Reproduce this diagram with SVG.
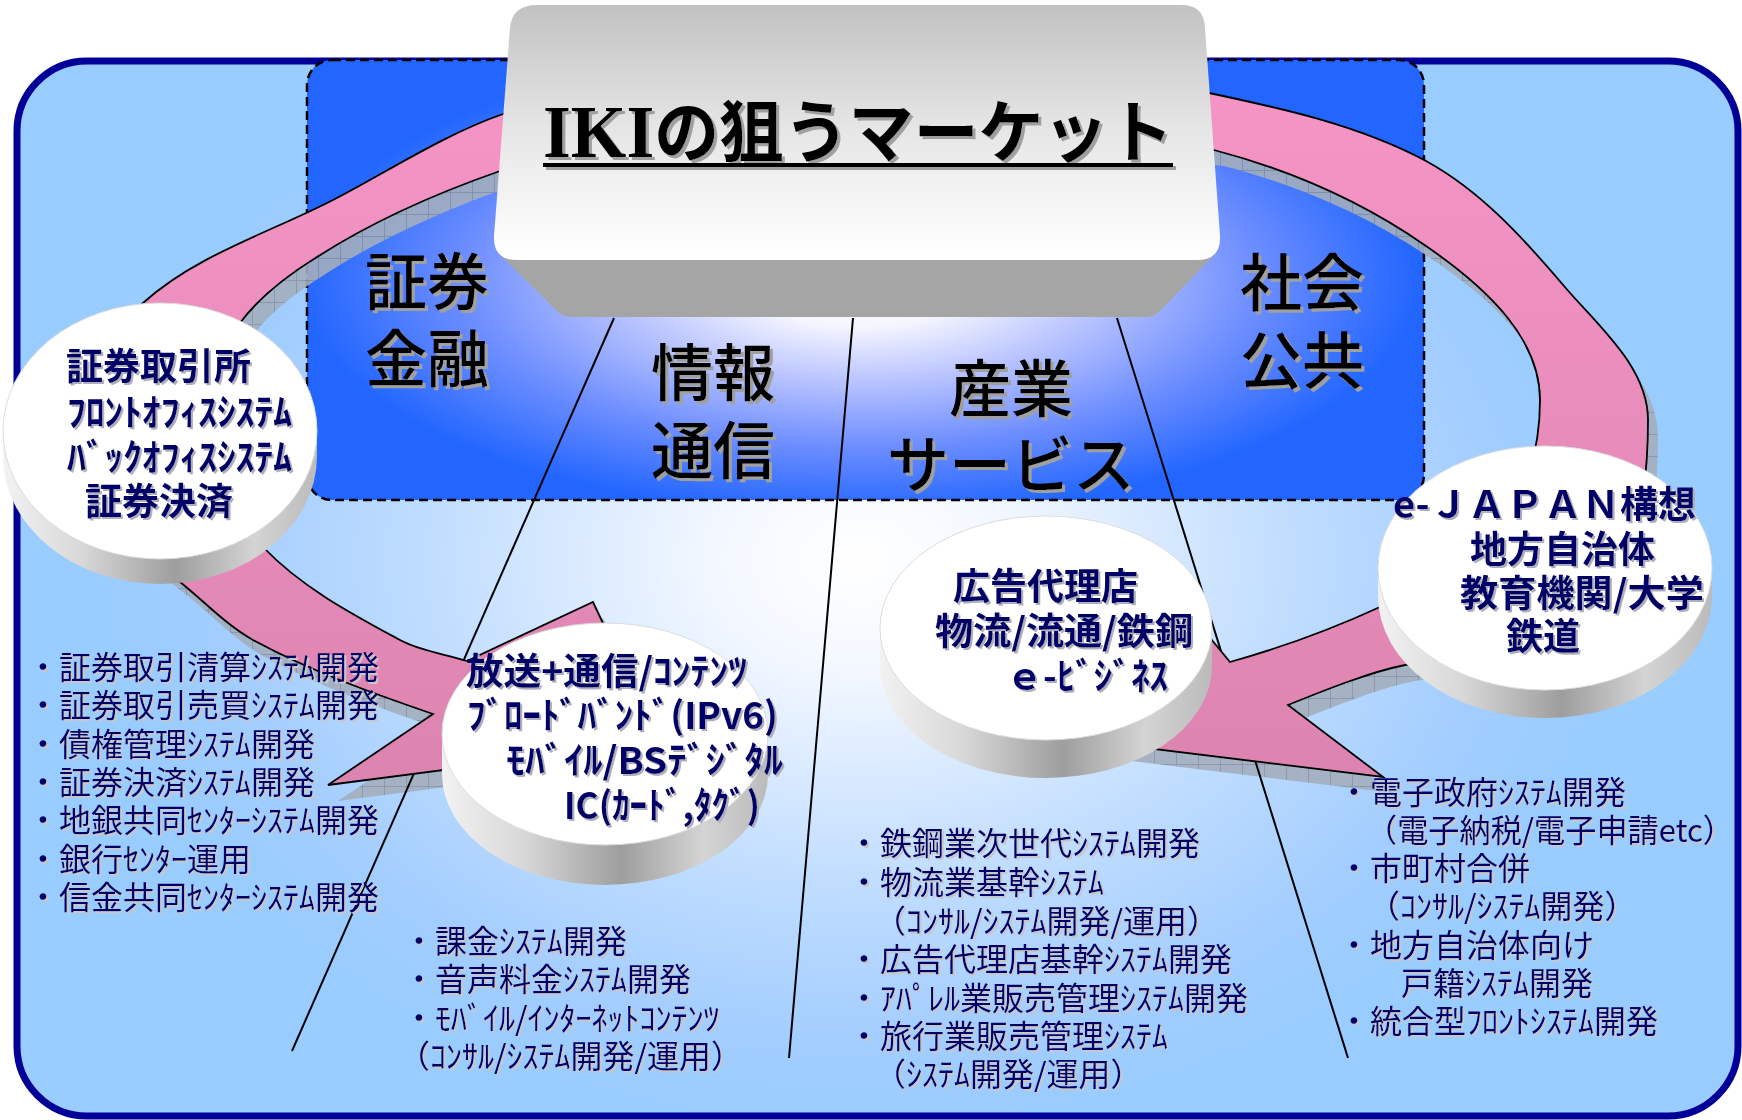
<svg xmlns="http://www.w3.org/2000/svg" width="1742" height="1120" viewBox="0 0 1742 1120">
<defs>
  <style>
    .lbl { font-family: "Noto Sans CJK JP", "Noto Sans CJK SC", sans-serif; font-size: 62px; font-weight: 500; fill: #000000; }
    .cyl { font-family: "Noto Sans CJK JP", "Noto Sans CJK SC", sans-serif; font-size: 37px; font-weight: bold; fill: #000066; }
    .lst { font-family: "Noto Sans CJK JP", "Noto Sans CJK SC", sans-serif; font-size: 32px; fill: #000066; }
    .conn { stroke: #000000; stroke-width: 2; fill: none; }
    .arrow { fill: url(#gPink); stroke: #000000; stroke-width: 1.8; stroke-linejoin: miter; }
    .ashadow { fill: url(#pGrid); opacity: 0.9; }
    .side { fill: url(#gSide); }
    .top { fill: #FFFFFF; stroke: #DDDDDD; stroke-width: 1; }
  </style>
  <radialGradient id="gOuter" gradientUnits="userSpaceOnUse" cx="860" cy="560" r="760" gradientTransform="translate(860 560) scale(1 0.75) translate(-860 -560)">
    <stop offset="0" stop-color="#FFFFFF"/>
    <stop offset="0.2" stop-color="#F2F7FF"/>
    <stop offset="0.55" stop-color="#C2DEFF"/>
    <stop offset="0.85" stop-color="#A2CDFF"/>
    <stop offset="1" stop-color="#99CCFF"/>
  </radialGradient>
  <radialGradient id="gInner" gradientUnits="userSpaceOnUse" cx="860" cy="280" r="560" gradientTransform="translate(860 280) scale(1 0.42) translate(-860 -280)">
    <stop offset="0" stop-color="#FFFFFF"/>
    <stop offset="0.2" stop-color="#F4F5FF"/>
    <stop offset="0.45" stop-color="#B4C0FF"/>
    <stop offset="0.72" stop-color="#6A8CFF"/>
    <stop offset="1" stop-color="#2266FF"/>
  </radialGradient>
  <linearGradient id="gPink" x1="0" y1="0" x2="0" y2="1">
    <stop offset="0" stop-color="#F595C6"/>
    <stop offset="1" stop-color="#DC84B0"/>
  </linearGradient>
  <linearGradient id="gFront" gradientUnits="userSpaceOnUse" x1="0" y1="5" x2="0" y2="255">
    <stop offset="0" stop-color="#C2C2C2"/>
    <stop offset="0.5" stop-color="#E6E6E6"/>
    <stop offset="1" stop-color="#FFFFFF"/>
  </linearGradient>
  <linearGradient id="gSide" x1="0" y1="0" x2="1" y2="0">
    <stop offset="0" stop-color="#F2F2F2"/>
    <stop offset="0.25" stop-color="#D8D8D8"/>
    <stop offset="0.55" stop-color="#9E9E9E"/>
    <stop offset="0.8" stop-color="#D4D4D4"/>
    <stop offset="1" stop-color="#BBBBBB"/>
  </linearGradient>
  <pattern id="pGrid" width="22" height="22" patternUnits="userSpaceOnUse">
    <rect width="22" height="22" fill="#A3AEBD"/>
    <path d="M0 0.5H22M0.5 0V22" stroke="#8893A3" stroke-width="1"/>
  </pattern>
  <filter id="fBlack" x="-5%" y="-20%" width="115%" height="150%">
    <feDropShadow dx="3" dy="3" stdDeviation="0" flood-color="#A0A0A0" flood-opacity="1"/>
  </filter>
  <filter id="fNavy" x="-5%" y="-20%" width="115%" height="150%">
    <feDropShadow dx="2" dy="2" stdDeviation="0" flood-color="#AEAEBE" flood-opacity="1"/>
  </filter>
  <filter id="fList" x="-5%" y="-20%" width="115%" height="150%">
    <feDropShadow dx="2" dy="2" stdDeviation="0" flood-color="#C6C6CC" flood-opacity="1"/>
  </filter>
  <path id="arrowL" d="M 860 82 C 700 84 563 93 503 114 C 443 135 389 171 333 200 C 269 233 196 255 143 303 C 107 335 75 382 75 430 C 75 492 132 544 180 582 C 204 601 226 625 253 640 C 310 671 372 693 433 714 L 328 785 L 659 742 L 593 602 L 467 661 C 445 654 420 651 400 640 C 352 614 301 587 263 547 C 232 515 195 475 195 430 C 195 391 217 354 240 323 C 260 296 288 275 317 257 C 373 221 437 193 500 171 C 600 150 760 140 860 140 Z"/>
  <path id="arrowR" d="M 860 82 C 980 80 1140 80 1209 93 C 1280 108 1359 125 1426 161 C 1481 191 1524 239 1564 286 C 1598 326 1648 367 1648 420 C 1648 470 1642 525 1625 560 C 1612 595 1590 612 1560 625 C 1520 645 1450 658 1405 665 C 1370 672 1325 690 1288 705 L 1383 777 L 1040 735 L 1150 565 L 1230 662 C 1280 648 1330 630 1380 607 C 1430 585 1475 560 1500 530 C 1525 500 1540 450 1540 400 C 1540 340 1490 290 1426 246 C 1360 200 1290 170 1214 150 C 1100 135 960 138 860 140 Z"/>
</defs>

<g id="background">
  <rect x="17" y="61" width="1721" height="1055" rx="70" ry="70" fill="url(#gOuter)" stroke="#000099" stroke-width="7"/>
  <rect x="307" y="60" width="1117" height="440" rx="25" ry="25" fill="url(#gInner)" stroke="#000000" stroke-width="2.5" stroke-dasharray="9 5"/>
</g>

<g id="categories" filter="url(#fBlack)">
  <g id="cat-finance"><text class="lbl" x="365" y="305">証券</text><text class="lbl" x="365" y="382">金融</text></g>
  <g id="cat-telecom"><text class="lbl" x="651" y="396">情報</text><text class="lbl" x="651" y="474">通信</text></g>
  <g id="cat-industry"><text class="lbl" x="949" y="412">産業</text><text class="lbl" x="887" y="488">サービス</text></g>
  <g id="cat-public"><text class="lbl" x="1240" y="306">社会</text><text class="lbl" x="1240" y="384">公共</text></g>
</g>

<g id="arrow-shadows">
  <use href="#arrowL" class="ashadow" transform="translate(10 16)"/>
  <use href="#arrowR" class="ashadow" transform="translate(10 16)"/>
</g>

<g id="connectors">
  <line class="conn" x1="614" y1="318" x2="292" y2="1051"/>
  <line class="conn" x1="853" y1="318" x2="789" y2="1058"/>
  <line class="conn" x1="1117" y1="318" x2="1348" y2="1058"/>
</g>

<g id="arrows">
  <use href="#arrowL" class="arrow"/>
  <use href="#arrowR" class="arrow"/>
</g>

<g id="node-securities">
  <path class="side" d="M 3 431 L 3 456 A 157 128 0 0 0 317 456 L 317 431 Z"/>
  <ellipse class="top" cx="160" cy="431" rx="157" ry="128"/>
  <g filter="url(#fNavy)">
    <text class="cyl" x="66" y="380">証券取引所</text>
    <text class="cyl" x="67" y="426" textLength="225" lengthAdjust="spacingAndGlyphs">ﾌﾛﾝﾄｵﾌｨｽｼｽﾃﾑ</text>
    <text class="cyl" x="67" y="471" textLength="225" lengthAdjust="spacingAndGlyphs">ﾊﾞｯｸｵﾌｨｽｼｽﾃﾑ</text>
    <text class="cyl" x="85" y="515">証券決済</text>
  </g>
</g>

<g id="node-broadcast">
  <path class="side" d="M 442 734 L 442 774 A 163 111 0 0 0 768 774 L 768 734 Z"/>
  <ellipse class="top" cx="605" cy="734" rx="163" ry="111"/>
  <g filter="url(#fNavy)">
    <text class="cyl" x="466" y="685" textLength="281" lengthAdjust="spacingAndGlyphs">放送+通信/ｺﾝﾃﾝﾂ</text>
    <text class="cyl" x="467" y="729" textLength="311" lengthAdjust="spacingAndGlyphs">ﾌﾞﾛｰﾄﾞﾊﾞﾝﾄﾞ(IPv6)</text>
    <text class="cyl" x="506" y="774" textLength="277" lengthAdjust="spacingAndGlyphs">ﾓﾊﾞｲﾙ/BSﾃﾞｼﾞﾀﾙ</text>
    <text class="cyl" x="564" y="819" textLength="196" lengthAdjust="spacingAndGlyphs">IC(ｶｰﾄﾞ,ﾀｸﾞ)</text>
  </g>
</g>

<g id="node-industry">
  <path class="side" d="M 880 628 L 880 666 A 166 112 0 0 0 1212 666 L 1212 628 Z"/>
  <ellipse class="top" cx="1046" cy="628" rx="166" ry="112"/>
  <g filter="url(#fNavy)">
    <text class="cyl" x="953" y="600">広告代理店</text>
    <text class="cyl" x="935" y="645" textLength="258" lengthAdjust="spacingAndGlyphs">物流/流通/鉄鋼</text>
    <text class="cyl" x="1006" y="690" textLength="162" lengthAdjust="spacingAndGlyphs">ｅ-ﾋﾞｼﾞﾈｽ</text>
  </g>
</g>

<g id="node-public">
  <path class="side" d="M 1378 568 L 1378 596 A 167 122 0 0 0 1712 596 L 1712 568 Z"/>
  <ellipse class="top" cx="1545" cy="568" rx="167" ry="122"/>
  <g filter="url(#fNavy)">
    <text class="cyl" x="1393" y="518" textLength="303" lengthAdjust="spacingAndGlyphs">e-ＪＡＰＡＮ構想</text>
    <text class="cyl" x="1470" y="563">地方自治体</text>
    <text class="cyl" x="1460" y="607" textLength="244" lengthAdjust="spacingAndGlyphs">教育機関/大学</text>
    <text class="cyl" x="1506" y="650">鉄道</text>
  </g>
</g>

<g id="list-finance" filter="url(#fList)">
  <text class="lst" x="27" y="679">・証券取引清算ｼｽﾃﾑ開発</text>
  <text class="lst" x="27" y="717">・証券取引売買ｼｽﾃﾑ開発</text>
  <text class="lst" x="27" y="756">・債権管理ｼｽﾃﾑ開発</text>
  <text class="lst" x="27" y="794">・証券決済ｼｽﾃﾑ開発</text>
  <text class="lst" x="27" y="832">・地銀共同ｾﾝﾀｰｼｽﾃﾑ開発</text>
  <text class="lst" x="27" y="871">・銀行ｾﾝﾀｰ運用</text>
  <text class="lst" x="27" y="909">・信金共同ｾﾝﾀｰｼｽﾃﾑ開発</text>
</g>

<g id="list-telecom" filter="url(#fList)">
  <text class="lst" x="403" y="953">・課金ｼｽﾃﾑ開発</text>
  <text class="lst" x="403" y="991">・音声料金ｼｽﾃﾑ開発</text>
  <text class="lst" x="403" y="1030">・ﾓﾊﾞｲﾙ/ｲﾝﾀｰﾈｯﾄｺﾝﾃﾝﾂ</text>
  <text class="lst" x="398" y="1068">（ｺﾝｻﾙ/ｼｽﾃﾑ開発/運用）</text>
</g>

<g id="list-industry" filter="url(#fList)">
  <text class="lst" x="848" y="855">・鉄鋼業次世代ｼｽﾃﾑ開発</text>
  <text class="lst" x="848" y="894">・物流業基幹ｼｽﾃﾑ</text>
  <text class="lst" x="874" y="933">（ｺﾝｻﾙ/ｼｽﾃﾑ開発/運用）</text>
  <text class="lst" x="848" y="971">・広告代理店基幹ｼｽﾃﾑ開発</text>
  <text class="lst" x="848" y="1010">・ｱﾊﾟﾚﾙ業販売管理ｼｽﾃﾑ開発</text>
  <text class="lst" x="848" y="1048">・旅行業販売管理ｼｽﾃﾑ</text>
  <text class="lst" x="874" y="1086">（ｼｽﾃﾑ開発/運用）</text>
</g>

<g id="list-public" filter="url(#fList)">
  <text class="lst" x="1338" y="804">・電子政府ｼｽﾃﾑ開発</text>
  <text class="lst" x="1366" y="842" textLength="368" lengthAdjust="spacingAndGlyphs">（電子納税/電子申請etc）</text>
  <text class="lst" x="1338" y="880">・市町村合併</text>
  <text class="lst" x="1368" y="918">（ｺﾝｻﾙ/ｼｽﾃﾑ開発）</text>
  <text class="lst" x="1338" y="957">・地方自治体向け</text>
  <text class="lst" x="1401" y="995">戸籍ｼｽﾃﾑ開発</text>
  <text class="lst" x="1338" y="1033">・統合型ﾌﾛﾝﾄｼｽﾃﾑ開発</text>
</g>

<g id="node-title">
  <path d="M 500 255 L 1214 255 L 1160 311 Q 1154 317 1145 317 L 572 317 Q 563 317 557 311 Z" fill="#A5A5A5"/>
  <path d="M 537 5 L 1182 5 Q 1204 5 1205 28 L 1220 236 Q 1221 260 1197 260 L 517 260 Q 493 260 494 236 L 510 28 Q 512 5 537 5 Z" fill="url(#gFront)"/>
  <g filter="url(#fBlack)">
    <text x="543" y="157" fill="#000000" textLength="630" lengthAdjust="spacingAndGlyphs"><tspan font-family="Liberation Serif, serif" font-weight="bold" font-size="75">IKI</tspan><tspan font-family="Noto Sans CJK JP, Noto Sans CJK SC, sans-serif" font-weight="bold" font-size="68">の狙うマーケット</tspan></text>
    <rect x="543" y="163" width="630" height="4" fill="#000000"/>
  </g>
</g>
</svg>
